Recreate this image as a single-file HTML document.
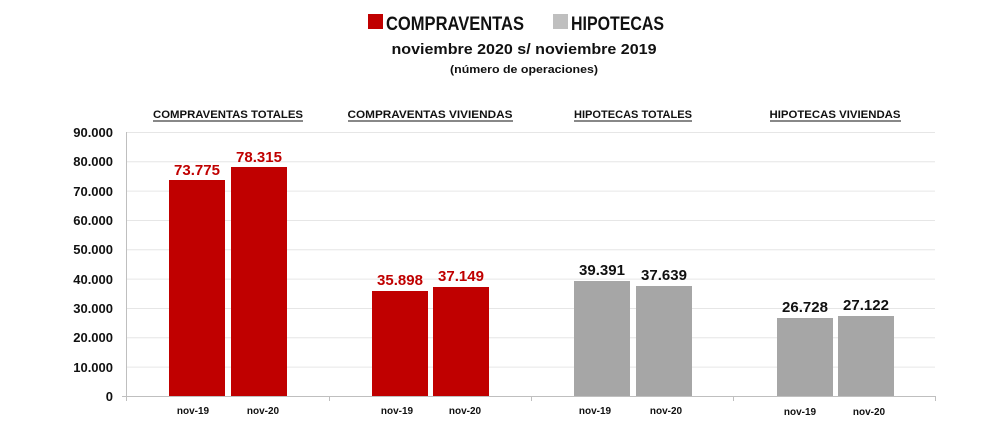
<!DOCTYPE html>
<html><head><meta charset="utf-8"><style>
html,body{margin:0;padding:0;background:#fff;}
svg{display:block;font-family:"Liberation Sans",sans-serif;font-weight:bold;}
</style></head><body>
<svg width="1000" height="422" viewBox="0 0 1000 422">
<rect x="368" y="14" width="15" height="15" fill="#c00000"/>
<text x="386" y="30" font-size="19" fill="#111" textLength="138" lengthAdjust="spacingAndGlyphs">COMPRAVENTAS</text>
<rect x="553" y="14" width="15" height="15" fill="#bfbfbf"/>
<text x="571" y="30" font-size="19" fill="#111" textLength="93" lengthAdjust="spacingAndGlyphs">HIPOTECAS</text>
<text x="524" y="54" font-size="15" fill="#111" text-anchor="middle" textLength="265" lengthAdjust="spacingAndGlyphs">noviembre 2020 s/ noviembre 2019</text>
<text x="524" y="73" font-size="11" fill="#111" text-anchor="middle" textLength="148" lengthAdjust="spacingAndGlyphs">(número de operaciones)</text>
<g font-size="11" fill="#111" text-anchor="middle">
<text x="228" y="118" textLength="150" lengthAdjust="spacingAndGlyphs">COMPRAVENTAS TOTALES</text>
<text x="430" y="118" textLength="165" lengthAdjust="spacingAndGlyphs">COMPRAVENTAS VIVIENDAS</text>
<text x="633" y="118" textLength="118" lengthAdjust="spacingAndGlyphs">HIPOTECAS TOTALES</text>
<text x="835" y="118" textLength="131" lengthAdjust="spacingAndGlyphs">HIPOTECAS VIVIENDAS</text>
</g>
<g stroke="#111" stroke-width="1">
<line x1="153" y1="121" x2="303" y2="121"/>
<line x1="348" y1="121" x2="513" y2="121"/>
<line x1="574" y1="121" x2="692" y2="121"/>
<line x1="770" y1="121" x2="901" y2="121"/>
</g>
<g stroke="#e6e6e6" stroke-width="1">
<line x1="127" y1="132.5" x2="935" y2="132.5"/>
<line x1="127" y1="161.8" x2="935" y2="161.8"/>
<line x1="127" y1="191.1" x2="935" y2="191.1"/>
<line x1="127" y1="220.5" x2="935" y2="220.5"/>
<line x1="127" y1="249.8" x2="935" y2="249.8"/>
<line x1="127" y1="279.1" x2="935" y2="279.1"/>
<line x1="127" y1="308.5" x2="935" y2="308.5"/>
<line x1="127" y1="337.8" x2="935" y2="337.8"/>
<line x1="127" y1="367.1" x2="935" y2="367.1"/>
</g>
<g stroke="#bfbfbf" stroke-width="1">
<line x1="126.5" y1="132" x2="126.5" y2="401"/>
<line x1="122" y1="396.5" x2="935" y2="396.5"/>
<line x1="329.5" y1="396" x2="329.5" y2="401"/>
<line x1="531.5" y1="396" x2="531.5" y2="401"/>
<line x1="733.5" y1="396" x2="733.5" y2="401"/>
<line x1="935.5" y1="396" x2="935.5" y2="401"/>
</g>
<g font-size="13" fill="#111" text-anchor="end">
<text x="113" y="137">90.000</text><text x="113" y="166">80.000</text><text x="113" y="196">70.000</text>
<text x="113" y="225">60.000</text><text x="113" y="254">50.000</text><text x="113" y="284">40.000</text>
<text x="113" y="313">30.000</text><text x="113" y="342">20.000</text><text x="113" y="372">10.000</text>
<text x="113" y="401">0</text>
</g>
<g fill="#c00000">
<rect x="169" y="180" width="56" height="216"/>
<rect x="231" y="167" width="56" height="229"/>
<rect x="372" y="291" width="56" height="105"/>
<rect x="433" y="287" width="56" height="109"/>
</g>
<g fill="#a6a6a6">
<rect x="574" y="281" width="56" height="115"/>
<rect x="636" y="286" width="56" height="110"/>
<rect x="777" y="318" width="56" height="78"/>
<rect x="838" y="316" width="56" height="80"/>
</g>
<g font-size="15" text-anchor="middle" fill="#c00000">
<text x="197" y="175">73.775</text><text x="259" y="162">78.315</text>
<text x="400" y="285">35.898</text><text x="461" y="281">37.149</text>
</g>
<g font-size="15" text-anchor="middle" fill="#111">
<text x="602" y="275">39.391</text><text x="664" y="280">37.639</text>
<text x="805" y="312">26.728</text><text x="866" y="310">27.122</text>
</g>
<g font-size="10" text-anchor="middle" fill="#111">
<text x="193" y="414">nov-19</text><text x="263" y="414">nov-20</text>
<text x="397" y="414">nov-19</text><text x="465" y="414">nov-20</text>
<text x="595" y="414">nov-19</text><text x="666" y="414">nov-20</text>
<text x="800" y="415">nov-19</text><text x="869" y="415">nov-20</text>
</g>
</svg>
</body></html>
